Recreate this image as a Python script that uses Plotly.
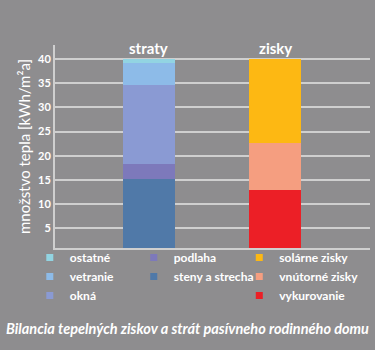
import plotly.graph_objects as go

categories = ["straty", "zisky"]

# straty (losses) components, bottom to top
straty_names = ["steny a strecha", "podlaha", "okná", "vetranie", "ostatné"]
straty_values = [15.2, 3.1, 16.4, 4.5, 0.9]
straty_colors = ["#5079a8", "#7d79bb", "#8a9ad3", "#8dbbe8", "#92d4e2"]

# zisky (gains) components, bottom to top
zisky_names = ["vykurovanie", "vnútorné zisky", "solárne zisky"]
zisky_values = [12.8, 9.8, 17.4]
zisky_colors = ["#ec1f26", "#f59e80", "#fdb813"]

y_ticks = [5, 10, 15, 20, 25, 30, 35, 40]

BG = "#8e8d8f"
GRID = "#cfcfcf"
FONT = "Lato"

fig = go.Figure()

for n, v, c in zip(straty_names, straty_values, straty_colors):
    fig.add_trace(go.Bar(x=[categories[0]], y=[v], name=n, marker_color=c,
                         marker_line_width=0, width=0.41, showlegend=False))
for n, v, c in zip(zisky_names, zisky_values, zisky_colors):
    fig.add_trace(go.Bar(x=[categories[1]], y=[v], name=n, marker_color=c,
                         marker_line_width=0, width=0.41, showlegend=False))

# legend columns (dummy marker traces)
legend_cols = [
    (["ostatné", "vetranie", "okná"], ["#92d4e2", "#8dbbe8", "#8a9ad3"], "legend"),
    (["podlaha", "steny a strecha"], ["#7d79bb", "#5079a8"], "legend2"),
    (["solárne zisky", "vnútorné zisky", "vykurovanie"], ["#fdb813", "#f59e80", "#ec1f26"], "legend3"),
]
for names, cols, lg in legend_cols:
    for n, c in zip(names, cols):
        fig.add_trace(go.Scatter(x=[None], y=[None], mode="markers", name=n,
                                 marker=dict(symbol="square", size=7, color=c),
                                 legend=lg, showlegend=True))

totals = [sum(straty_values), sum(zisky_values)]
for cat, tot in zip(categories, totals):
    fig.add_annotation(x=cat, y=tot, text="<b>%s</b>" % cat, showarrow=False,
                       yanchor="bottom", yshift=0,
                       font=dict(family=FONT, size=15, color="white"))

leg_common = dict(bgcolor="rgba(0,0,0,0)", traceorder="normal",
                  font=dict(family=FONT, size=12, color="white", weight="bold"),
                  yanchor="top", xanchor="left", itemclick=False)

fig.update_layout(
    width=375, height=350,
    margin=dict(l=55, r=5, t=45, b=102),
    paper_bgcolor=BG, plot_bgcolor=BG,
    barmode="stack",
    bargap=0,
    showlegend=True,
    legend=dict(x=-0.08, y=0.025, **leg_common),
    legend2=dict(x=0.25, y=0.025, **leg_common),
    legend3=dict(x=0.585, y=0.025, **leg_common),
    title=dict(text="Bilancia tepelných ziskov a strát pasívneho rodinného domu",
               x=0.5, xanchor="center", y=1 - 329 / 350, yanchor="middle", yref="container",
               font=dict(family=FONT, size=14.5, color="white", style="italic", weight="bold")),
    xaxis=dict(type="category", range=[-0.743, 1.75], showticklabels=False,
               showgrid=False, zeroline=False, showline=True, linecolor=GRID, linewidth=2),
    yaxis=dict(range=[0.9, 42.9], tickvals=y_ticks, showgrid=True, gridcolor=GRID, gridwidth=1.5,
               zeroline=False, showline=True, linecolor=GRID, linewidth=2,
               ticks="", tickfont=dict(family=FONT, size=11, color="white", weight="bold"),
               title=dict(text="množstvo tepla [kWh/m²a]", standoff=4,
                          font=dict(family=FONT, size=15, color="white"))),
)

fig.write_html("out.html")
